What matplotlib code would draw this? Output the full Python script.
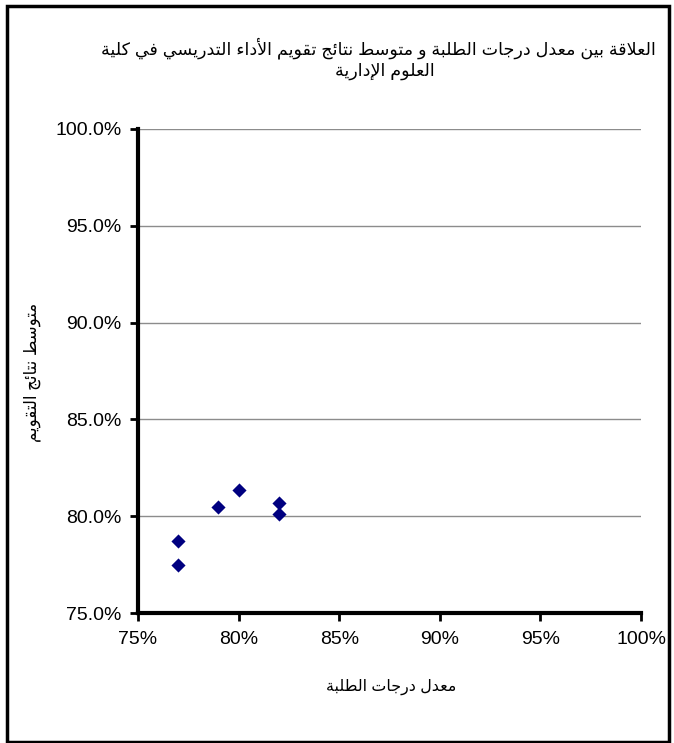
import matplotlib
matplotlib.use("Agg")
import matplotlib.pyplot as plt
from matplotlib.patches import Rectangle
from matplotlib.ticker import FuncFormatter

# ---------------- data ----------------
student_grades = [77, 77, 79, 80, 82, 82]               # معدل درجات الطلبة (%)
evaluation_avg = [78.7, 77.5, 80.5, 81.35, 80.7, 80.1]  # متوسط نتائج التقويم (%)
x_ticks = [75, 80, 85, 90, 95, 100]
y_ticks = [75, 80, 85, 90, 95, 100]
title_lines = ["العلاقة بين معدل درجات الطلبة و متوسط نتائج تقويم الأداء التدريسي في كلية",
               "العلوم الإدارية"]
x_label = "معدل درجات الطلبة"
y_label = "متوسط نتائج التقويم"

# ---------------- minimal Arabic shaping ----------------
DUAL = {
    'ئ': 0xFE89, 'ب': 0xFE8F, 'ت': 0xFE95, 'ث': 0xFE99, 'ج': 0xFE9D, 'ح': 0xFEA1,
    'خ': 0xFEA5, 'س': 0xFEB1, 'ش': 0xFEB5, 'ص': 0xFEB9, 'ض': 0xFEBD, 'ط': 0xFEC1,
    'ظ': 0xFEC5, 'ع': 0xFEC9, 'غ': 0xFECD, 'ف': 0xFED1, 'ق': 0xFED5, 'ك': 0xFED9,
    'ل': 0xFEDD, 'م': 0xFEE1, 'ن': 0xFEE5, 'ه': 0xFEE9, 'ي': 0xFEF1,
}
RIGHT = {
    'آ': 0xFE81, 'أ': 0xFE83, 'ؤ': 0xFE85, 'إ': 0xFE87, 'ا': 0xFE8D, 'ة': 0xFE93,
    'د': 0xFEA9, 'ذ': 0xFEAB, 'ر': 0xFEAD, 'ز': 0xFEAF, 'و': 0xFEED, 'ى': 0xFEEF,
}
NONJOIN = {'ء': 0xFE80}
LAMALEF = {'آ': 0xFEF5, 'أ': 0xFEF7, 'إ': 0xFEF9, 'ا': 0xFEFB}


def shape(text):
    toks = []
    i = 0
    while i < len(text):
        c = text[i]
        if c == 'ل' and i + 1 < len(text) and text[i + 1] in LAMALEF:
            toks.append(('LA', text[i + 1]))
            i += 2
        else:
            toks.append(('C', c))
            i += 1

    def is_letter(t):
        return t[0] == 'LA' or t[1] in DUAL or t[1] in RIGHT or t[1] in NONJOIN

    def joins_left(t):
        return t[0] == 'C' and t[1] in DUAL

    out = []
    for k, t in enumerate(toks):
        prev = toks[k - 1] if k > 0 else None
        nxt = toks[k + 1] if k + 1 < len(toks) else None
        jp = prev is not None and joins_left(prev) and is_letter(t)
        if t[0] == 'LA':
            out.append(chr(LAMALEF[t[1]] + (1 if jp else 0)))
            continue
        c = t[1]
        jn = c in DUAL and nxt is not None and is_letter(nxt)
        if c in DUAL:
            base = DUAL[c]
            if jp and jn:
                out.append(chr(base + 3))
            elif jn:
                out.append(chr(base + 2))
            elif jp:
                out.append(chr(base + 1))
            else:
                out.append(chr(base))
        elif c in RIGHT:
            out.append(chr(RIGHT[c] + (1 if jp else 0)))
        elif c in NONJOIN:
            out.append(chr(NONJOIN[c]))
        else:
            out.append(c)
    return ''.join(reversed(out))


plt.rcParams['font.family'] = ['Liberation Sans', 'DejaVu Sans']

W, H = 674, 743
fig = plt.figure(figsize=(W / 100, H / 100), dpi=100)

# plot area in pixels: left 138, right 641, top 129, bottom 613
ax = fig.add_axes([138 / W, 1 - 613 / H, (641 - 138) / W, (613 - 129) / H])

ax.scatter(student_grades, evaluation_avg, marker='D', s=7.2 ** 2, color='#000080',
           zorder=3, linewidths=0)

ax.set_xlim(75, 100)
ax.set_ylim(75, 100)
ax.set_xticks(x_ticks)
ax.set_yticks(y_ticks)
ax.xaxis.set_major_formatter(FuncFormatter(lambda v, p: f"{v:.0f}%"))
ax.yaxis.set_major_formatter(FuncFormatter(lambda v, p: f"{v:.1f}%"))
ax.tick_params(axis='both', labelsize=14, direction='out', width=2, length=6,
               color='black', pad=6)
ax.tick_params(axis='x', pad=7)

ax.grid(axis='y', color='#8c8c8c', linewidth=1)
ax.set_axisbelow(True)
for s in ['top', 'right']:
    ax.spines[s].set_visible(False)
for s in ['left', 'bottom']:
    ax.spines[s].set_linewidth(3)
    ax.spines[s].set_color('black')

# title
fig.text(378 / W, 1 - 48 / H, shape(title_lines[0]), ha='center', va='center', fontsize=12.6)
fig.text(385 / W, 1 - 71 / H, shape(title_lines[1]), ha='center', va='center', fontsize=12.6)

# axis labels
fig.text(391 / W, 1 - 687 / H, shape(x_label), ha='center', va='center', fontsize=11.4)
fig.text(32 / W, 1 - 372 / H, shape(y_label), ha='center', va='center', fontsize=12,
         rotation=90)

# outer border
fig.patches.append(Rectangle((6.5 / W, 1.5 / H), (669 - 6.5) / W, (737.5 - 1.5) / H,
                             transform=fig.transFigure, fill=False, edgecolor='black',
                             linewidth=2.5))

fig.savefig('out.png', dpi=100)
